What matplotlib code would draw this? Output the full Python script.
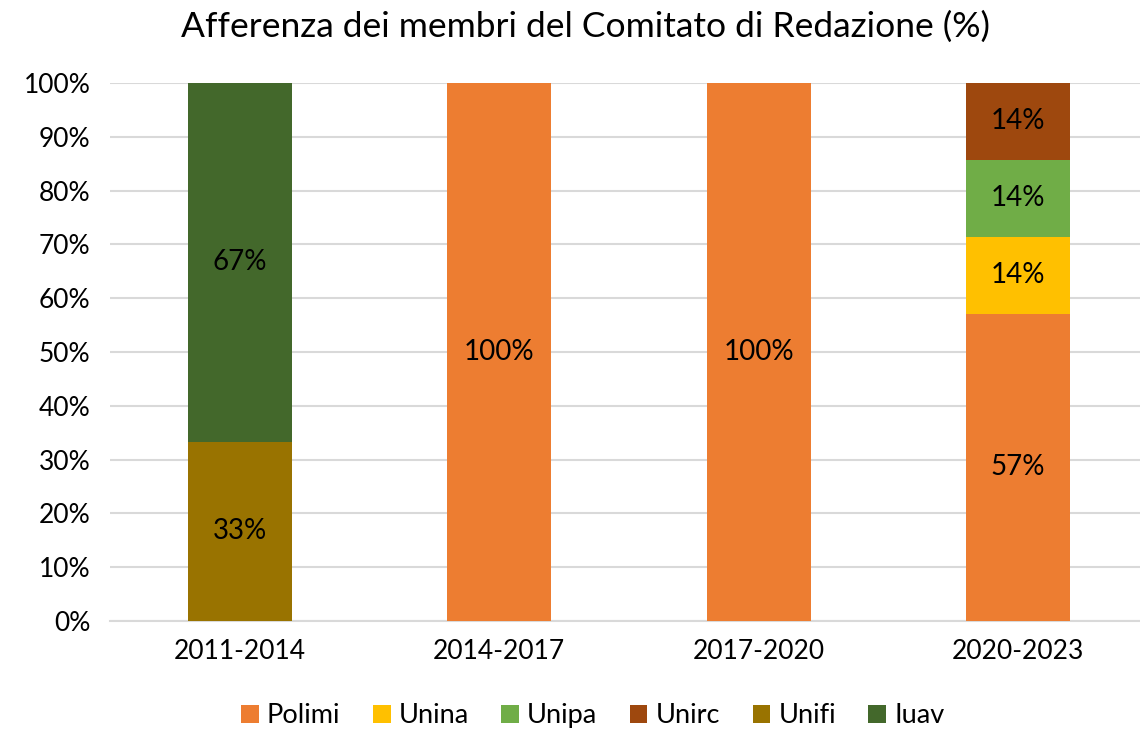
import matplotlib.pyplot as plt
import numpy as np

plt.rcParams["font.family"] = ["Lato", "DejaVu Sans"]

# Data
periods = ["2011-2014", "2014-2017", "2017-2020", "2020-2023"]
series_names = ["Polimi", "Unina", "Unipa", "Unirc", "Unifi", "Iuav"]
polimi = [0.0, 100.0, 100.0, 57.14]
unina = [0.0, 0.0, 0.0, 14.29]
unipa = [0.0, 0.0, 0.0, 14.29]
unirc = [0.0, 0.0, 0.0, 14.29]
unifi = [33.33, 0.0, 0.0, 0.0]
iuav = [66.67, 0.0, 0.0, 0.0]

colors = ["#ED7D31", "#FFC000", "#70AD47", "#9E480E", "#997300", "#43682B"]

#-------------------------------------------------------------------------------

def main():
  fig = plt.figure(figsize=(11.4, 7.38), dpi=100)
  ax = fig.add_axes([0.0965, 0.1585, 0.9035, 0.729])

  x = np.arange(len(periods))
  bottom = np.zeros(len(periods))
  all_series = [polimi, unina, unipa, unirc, unifi, iuav]
  for name, vals, col in zip(series_names, all_series, colors):
    vals = np.array(vals)
    ax.bar(x, vals, 0.4, bottom=bottom, color=col, label=name, zorder=3)
    for xi, v, b in zip(x, vals, bottom):
      if v > 0:
        ax.text(xi, b + v / 2, "{:.0f}%".format(v), ha="center", va="center",
                fontsize=20, color="black", zorder=4)
    bottom += vals

  ax.set_xlim(-0.5, 3.47)
  ax.set_ylim(0, 100)
  ax.set_yticks(np.arange(0, 101, 10))
  ax.set_yticklabels(["{}%".format(t) for t in range(0, 101, 10)])
  ax.set_xticks(x)
  ax.set_xticklabels(periods)
  ax.tick_params(axis="both", length=0, labelsize=19, colors="black")
  ax.tick_params(axis="x", pad=13)
  ax.tick_params(axis="y", pad=14)
  ax.yaxis.grid(True, color="#D9D9D9", linewidth=1.5, zorder=0)
  for side in ["top", "right", "left"]:
    ax.spines[side].set_visible(False)
  ax.spines["bottom"].set_color("#D9D9D9")
  ax.spines["bottom"].set_linewidth(1.5)

  fig.suptitle("Afferenza dei membri del Comitato di Redazione (%)",
               fontsize=25.5, x=0.514, y=0.985)
  fig.legend(loc="lower center", ncol=6, frameon=False, fontsize=19.5,
             bbox_to_anchor=(0.52, -0.02), handlelength=0.65, handleheight=0.65,
             handletextpad=0.3, columnspacing=1.2)

  fig.savefig("out.png", dpi=100)
  plt.close(fig)

if __name__ == "__main__":
  main()
